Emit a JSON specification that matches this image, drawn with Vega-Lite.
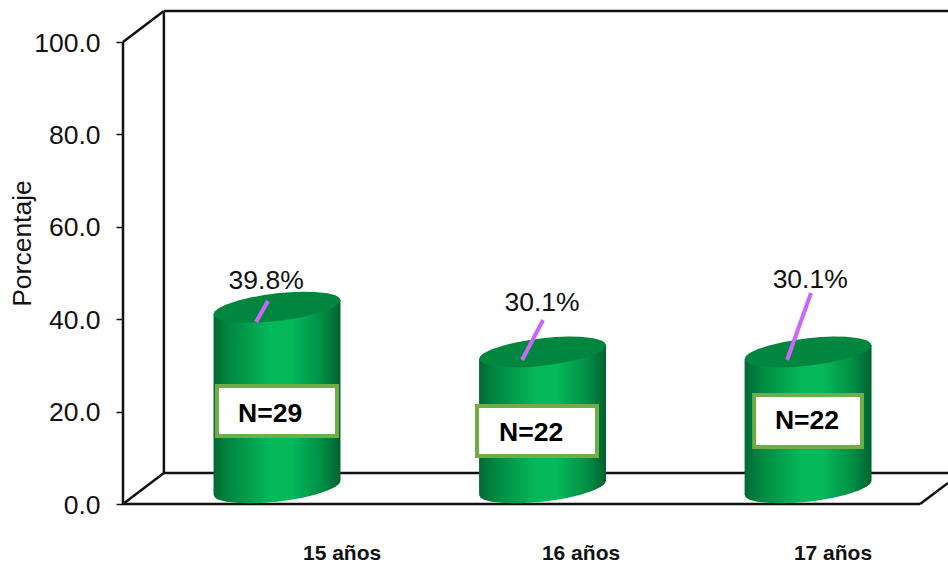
{
  "$schema": "https://vega.github.io/schema/vega-lite/v6.json",
  "width": 825,
  "height": 493,
  "autosize": {"type": "none"},
  "padding": {"left": 123, "top": 11, "right": 0, "bottom": 60},
  "background": "white",
  "config": {"view": {"stroke": null}, "font": "Liberation Sans"},
  "datasets": {
    "frame": [
      {"edge": "back top", "x": 0.574, "x2": 3.527, "y": 106.71, "y2": 106.71},
      {"edge": "back left", "x": 0.574, "x2": 0.574, "y": 106.71, "y2": 6.71},
      {"edge": "floor back", "x": 0.574, "x2": 3.527, "y": 6.71, "y2": 6.71},
      {"edge": "axis", "x": 0.42, "x2": 0.42, "y": 0, "y2": 100},
      {"edge": "top depth", "x": 0.42, "x2": 0.574, "y": 100, "y2": 106.71},
      {"edge": "floor left", "x": 0.42, "x2": 0.574, "y": 0, "y2": 6.71},
      {"edge": "floor front", "x": 0.42, "x2": 3.422, "y": 0, "y2": 0},
      {"edge": "floor right", "x": 3.422, "x2": 3.527, "y": 0, "y2": 4.55}
    ],
    "cylinders": [
      {"edad": "15 años", "x": 0.761, "mid": 41.09, "base": 1.99, "faceTop": 41.09, "faceLow": 41.09},
      {"edad": "15 años", "x": 0.766, "mid": 41.12, "base": 1.42, "faceTop": 41.71, "faceLow": 40.52},
      {"edad": "15 años", "x": 0.78, "mid": 41.21, "base": 0.94, "faceTop": 42.38, "faceLow": 40.04},
      {"edad": "15 años", "x": 0.809, "mid": 41.39, "base": 0.5, "faceTop": 43.18, "faceLow": 39.6},
      {"edad": "15 años", "x": 0.857, "mid": 41.69, "base": 0.2, "faceTop": 44.08, "faceLow": 39.3},
      {"edad": "15 años", "x": 0.904, "mid": 41.99, "base": 0.16, "faceTop": 44.73, "faceLow": 39.26},
      {"edad": "15 años", "x": 0.952, "mid": 42.3, "base": 0.27, "faceTop": 45.22, "faceLow": 39.37},
      {"edad": "15 años", "x": 1.0, "mid": 42.6, "base": 0.51, "faceTop": 45.59, "faceLow": 39.61},
      {"edad": "15 años", "x": 1.048, "mid": 42.9, "base": 0.88, "faceTop": 45.83, "faceLow": 39.98},
      {"edad": "15 años", "x": 1.096, "mid": 43.21, "base": 1.37, "faceTop": 45.95, "faceLow": 40.47},
      {"edad": "15 años", "x": 1.143, "mid": 43.51, "base": 2.02, "faceTop": 45.9, "faceLow": 41.12},
      {"edad": "15 años", "x": 1.191, "mid": 43.81, "base": 2.92, "faceTop": 45.6, "faceLow": 42.02},
      {"edad": "15 años", "x": 1.22, "mid": 43.99, "base": 3.72, "faceTop": 45.17, "faceLow": 42.82},
      {"edad": "15 años", "x": 1.234, "mid": 44.09, "base": 4.39, "faceTop": 44.68, "faceLow": 43.49},
      {"edad": "15 años", "x": 1.239, "mid": 44.12, "base": 5.02, "faceTop": 44.12, "faceLow": 44.12},

      {"edad": "16 años", "x": 1.761, "mid": 31.39, "base": 1.99, "faceTop": 31.39, "faceLow": 31.39},
      {"edad": "16 años", "x": 1.766, "mid": 31.42, "base": 1.42, "faceTop": 32.01, "faceLow": 30.82},
      {"edad": "16 años", "x": 1.78, "mid": 31.51, "base": 0.94, "faceTop": 32.68, "faceLow": 30.34},
      {"edad": "16 años", "x": 1.809, "mid": 31.69, "base": 0.5, "faceTop": 33.48, "faceLow": 29.9},
      {"edad": "16 años", "x": 1.857, "mid": 31.99, "base": 0.2, "faceTop": 34.38, "faceLow": 29.6},
      {"edad": "16 años", "x": 1.904, "mid": 32.29, "base": 0.16, "faceTop": 35.03, "faceLow": 29.56},
      {"edad": "16 años", "x": 1.952, "mid": 32.6, "base": 0.27, "faceTop": 35.52, "faceLow": 29.67},
      {"edad": "16 años", "x": 2.0, "mid": 32.9, "base": 0.51, "faceTop": 35.89, "faceLow": 29.91},
      {"edad": "16 años", "x": 2.048, "mid": 33.2, "base": 0.88, "faceTop": 36.13, "faceLow": 30.28},
      {"edad": "16 años", "x": 2.096, "mid": 33.51, "base": 1.37, "faceTop": 36.25, "faceLow": 30.77},
      {"edad": "16 años", "x": 2.143, "mid": 33.81, "base": 2.02, "faceTop": 36.2, "faceLow": 31.42},
      {"edad": "16 años", "x": 2.191, "mid": 34.11, "base": 2.92, "faceTop": 35.9, "faceLow": 32.32},
      {"edad": "16 años", "x": 2.22, "mid": 34.29, "base": 3.72, "faceTop": 35.47, "faceLow": 33.12},
      {"edad": "16 años", "x": 2.234, "mid": 34.39, "base": 4.39, "faceTop": 34.98, "faceLow": 33.79},
      {"edad": "16 años", "x": 2.239, "mid": 34.42, "base": 5.02, "faceTop": 34.42, "faceLow": 34.42},

      {"edad": "17 años", "x": 2.761, "mid": 31.39, "base": 1.99, "faceTop": 31.39, "faceLow": 31.39},
      {"edad": "17 años", "x": 2.766, "mid": 31.42, "base": 1.42, "faceTop": 32.01, "faceLow": 30.82},
      {"edad": "17 años", "x": 2.78, "mid": 31.51, "base": 0.94, "faceTop": 32.68, "faceLow": 30.34},
      {"edad": "17 años", "x": 2.809, "mid": 31.69, "base": 0.5, "faceTop": 33.48, "faceLow": 29.9},
      {"edad": "17 años", "x": 2.857, "mid": 31.99, "base": 0.2, "faceTop": 34.38, "faceLow": 29.6},
      {"edad": "17 años", "x": 2.904, "mid": 32.29, "base": 0.16, "faceTop": 35.03, "faceLow": 29.56},
      {"edad": "17 años", "x": 2.952, "mid": 32.6, "base": 0.27, "faceTop": 35.52, "faceLow": 29.67},
      {"edad": "17 años", "x": 3.0, "mid": 32.9, "base": 0.51, "faceTop": 35.89, "faceLow": 29.91},
      {"edad": "17 años", "x": 3.048, "mid": 33.2, "base": 0.88, "faceTop": 36.13, "faceLow": 30.28},
      {"edad": "17 años", "x": 3.096, "mid": 33.51, "base": 1.37, "faceTop": 36.25, "faceLow": 30.77},
      {"edad": "17 años", "x": 3.143, "mid": 33.81, "base": 2.02, "faceTop": 36.2, "faceLow": 31.42},
      {"edad": "17 años", "x": 3.191, "mid": 34.11, "base": 2.92, "faceTop": 35.9, "faceLow": 32.32},
      {"edad": "17 años", "x": 3.22, "mid": 34.29, "base": 3.72, "faceTop": 35.47, "faceLow": 33.12},
      {"edad": "17 años", "x": 3.234, "mid": 34.39, "base": 4.39, "faceTop": 34.98, "faceLow": 33.79},
      {"edad": "17 años", "x": 3.239, "mid": 34.42, "base": 5.02, "faceTop": 34.42, "faceLow": 34.42}
    ],
    "leaders": [
      {"edad": "15 años", "x": 0.921, "x2": 0.966, "y": 39.4, "y2": 43.94},
      {"edad": "16 años", "x": 1.923, "x2": 2.002, "y": 31.17, "y2": 39.83},
      {"edad": "17 años", "x": 2.921, "x2": 3.011, "y": 31.17, "y2": 45.67}
    ],
    "percent": [
      {"edad": "15 años", "x": 0.959, "y": 48.2, "label": "39.8%"},
      {"edad": "16 años", "x": 1.998, "y": 43.5, "label": "30.1%"},
      {"edad": "17 años", "x": 3.008, "y": 48.5, "label": "30.1%"}
    ],
    "counts": [
      {"edad": "15 años", "x": 0.774, "x2": 1.226, "y": 25.54, "y2": 14.72, "tx": 0.974, "ty": 19.48, "label": "N=29"},
      {"edad": "16 años", "x": 1.753, "x2": 2.205, "y": 21.21, "y2": 10.39, "tx": 1.957, "ty": 15.37, "label": "N=22"},
      {"edad": "17 años", "x": 2.797, "x2": 3.203, "y": 23.59, "y2": 12.34, "tx": 2.996, "ty": 17.97, "label": "N=22"}
    ],
    "ages": [
      {"edad": "15 años", "x": 1.245, "y": -10.9},
      {"edad": "16 años", "x": 2.145, "y": -10.9},
      {"edad": "17 años", "x": 3.094, "y": -10.9}
    ]
  },
  "encoding": {
    "x": {"field": "x", "type": "quantitative", "scale": {"domain": [0.42, 3.527], "nice": false, "zero": false}, "axis": null},
    "y": {
      "field": "y",
      "type": "quantitative",
      "scale": {"domain": [0, 106.71], "nice": false},
      "axis": {
        "title": "Porcentaje",
        "values": [0, 20, 40, 60, 80, 100],
        "format": ".1f",
        "grid": false,
        "domain": false,
        "ticks": true,
        "tickSize": 7,
        "tickWidth": 1.5,
        "tickColor": "#111111",
        "labelFontSize": 26.5,
        "labelColor": "#111111",
        "labelPadding": 16,
        "labelOffset": 1,
        "labelFont": "Liberation Sans",
        "titleFont": "Liberation Sans",
        "titleFontSize": 26.5,
        "titleFontWeight": "normal",
        "titleColor": "#111111",
        "titleX": -87,
        "titleY": 232
      }
    }
  },
  "layer": [
    {
      "data": {"name": "frame"},
      "mark": {"type": "rule", "color": "#111111", "strokeWidth": 2.5},
      "encoding": {
        "x2": {"field": "x2"},
        "y2": {"field": "y2"},
        "detail": {"field": "edge"}
      }
    },
    {
      "data": {"name": "cylinders"},
      "mark": {
        "type": "area",
        "orient": "vertical",
        "fill": {
          "gradient": "linear",
          "x1": 0, "x2": 1, "y1": 0, "y2": 0,
          "stops": [
            {"offset": 0, "color": "#006a32"},
            {"offset": 0.14, "color": "#008a42"},
            {"offset": 0.45, "color": "#05b85a"},
            {"offset": 0.62, "color": "#05b85a"},
            {"offset": 0.86, "color": "#008c44"},
            {"offset": 1, "color": "#00612e"}
          ]
        }
      },
      "encoding": {
        "y": {"field": "mid", "type": "quantitative"},
        "y2": {"field": "base"},
        "detail": {"field": "edad"}
      }
    },
    {
      "data": {"name": "cylinders"},
      "mark": {"type": "area", "orient": "vertical", "fill": "#00863f"},
      "encoding": {
        "y": {"field": "faceTop", "type": "quantitative"},
        "y2": {"field": "faceLow"},
        "detail": {"field": "edad"}
      }
    },
    {
      "data": {"name": "leaders"},
      "mark": {"type": "rule", "color": "#cc66ff", "strokeWidth": 4},
      "encoding": {
        "x2": {"field": "x2"},
        "y2": {"field": "y2"},
        "detail": {"field": "edad"}
      }
    },
    {
      "data": {"name": "percent"},
      "mark": {"type": "text", "font": "Liberation Sans", "fontSize": 26.5, "color": "#111111", "baseline": "middle", "align": "center"},
      "encoding": {"text": {"field": "label"}}
    },
    {
      "data": {"name": "counts"},
      "mark": {"type": "rect", "fill": "white", "stroke": "#70ad47", "strokeWidth": 4},
      "encoding": {
        "x2": {"field": "x2"},
        "y2": {"field": "y2"}
      }
    },
    {
      "data": {"name": "counts"},
      "mark": {"type": "text", "font": "Liberation Sans", "fontSize": 26.5, "fontWeight": "bold", "color": "black", "baseline": "middle", "align": "center"},
      "encoding": {
        "x": {"field": "tx", "type": "quantitative"},
        "y": {"field": "ty", "type": "quantitative"},
        "text": {"field": "label"}
      }
    },
    {
      "data": {"name": "ages"},
      "mark": {"type": "text", "font": "Liberation Sans", "fontSize": 21, "fontWeight": "bold", "color": "#111111", "baseline": "middle", "align": "center"},
      "encoding": {"text": {"field": "edad"}}
    }
  ]
}
